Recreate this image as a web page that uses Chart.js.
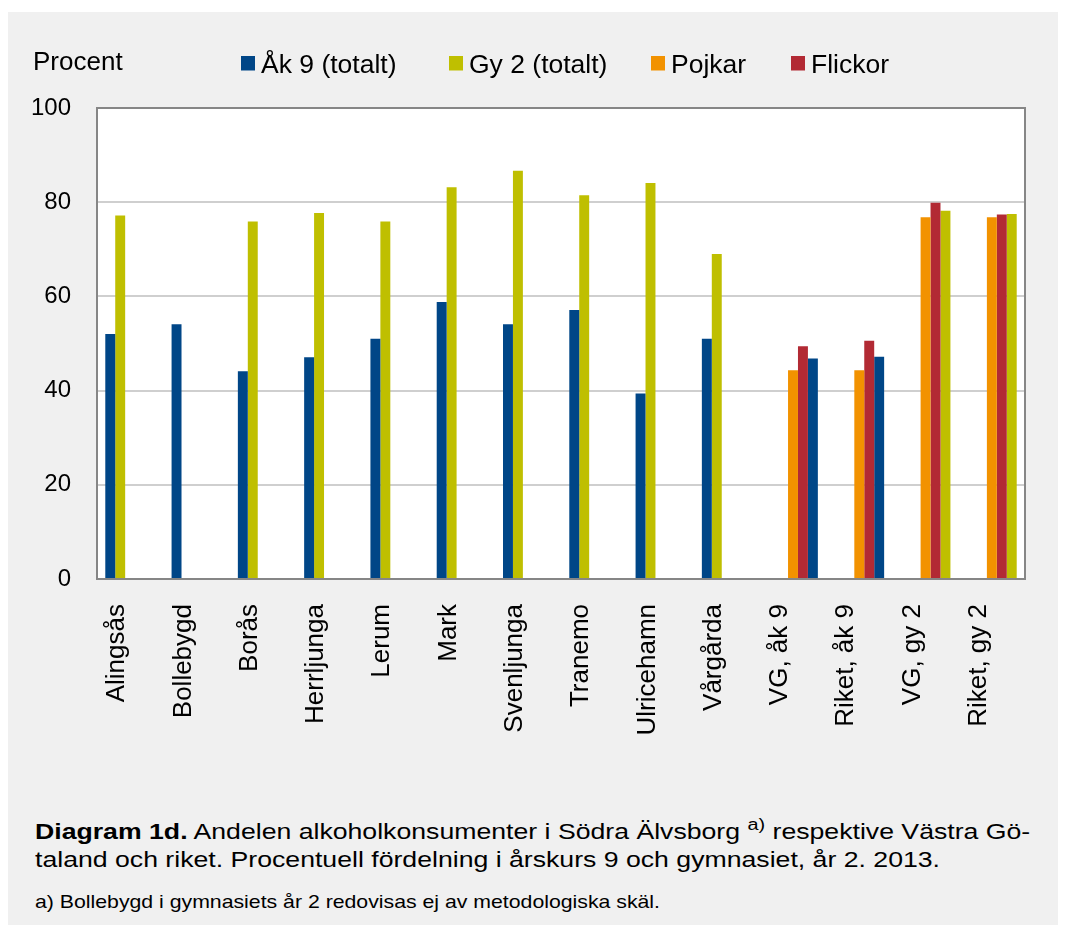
<!DOCTYPE html>
<html>
<head>
<meta charset="utf-8">
<script src="https://cdn.jsdelivr.net/npm/chart.js@4.4.1/dist/chart.umd.min.js"></script>
<style>
  html, body { margin: 0; padding: 0; background: #ffffff; }
  #panel { position: absolute; left: 8px; top: 12px; width: 1050px; height: 913px; background: #f0f0f0; overflow: hidden; }
  #c { position: absolute; left: 0; top: 0; }
  .cap { position: absolute; left: 27px; font-family: "Liberation Sans", Arial, sans-serif; color: #000; white-space: nowrap; line-height: 1; transform-origin: 0 0; }
  .sup { position: relative; top: -9px; font-size: 16px; }
</style>
</head>
<body>
<div id="panel">
  <canvas id="c" width="1050" height="770" style="width:1050px;height:770px"></canvas>
  <div class="cap" id="cap1" style="top:810px;font-size:21.5px;"><b>Diagram 1d.</b> Andelen alkoholkonsumenter i Södra Älvsborg <span class="sup">a)</span> respektive Västra Gö-</div>
  <div class="cap" id="cap2" style="top:838px;font-size:21.5px;">taland och riket. Procentuell fördelning i årskurs 9 och gymnasiet, år 2. 2013.</div>
  <div class="cap" id="cap3" style="top:881px;font-size:18.5px;">a) Bollebygd i gymnasiets år 2 redovisas ej av metodologiska skäl.</div>
</div>
<script>
// ---- Data ----
const categories = ['Alingsås', 'Bollebygd', 'Borås', 'Herrljunga', 'Lerum', 'Mark', 'Svenljunga', 'Tranemo', 'Ulricehamn', 'Vårgårda', 'VG, åk 9', 'Riket, åk 9', 'VG, gy 2', 'Riket, gy 2'];
const ak9Totalt = [52.0, 54.1, 44.1, 47.1, 51.0, 58.8, 54.1, 57.1, 39.4, 51.0, null, null, null, null];
const gy2Totalt = [77.2, null, 75.9, 77.7, 75.9, 83.2, 86.7, 81.5, 84.1, 69.0, null, null, null, null];
const pojkar    = [null, null, null, null, null, null, null, null, null, null, 44.3, 44.3, 76.8, 76.8];
const flickor   = [null, null, null, null, null, null, null, null, null, null, 49.4, 50.6, 79.9, 77.4];
const regionTotalt = [null, null, null, null, null, null, null, null, null, null, 46.8, 47.2, 78.2, 77.5];
const regionTotaltSeries = [null, null, null, null, null, null, null, null, null, null, 'ak9', 'ak9', 'gy2', 'gy2'];
const yTicks = [0, 20, 40, 60, 80, 100];
const yTitle = 'Procent';
const seriesNames = ['Åk 9 (totalt)', 'Gy 2 (totalt)', 'Pojkar', 'Flickor'];

// ---- Styles ----
const COLORS = { ak9: '#004687', gy2: '#bfbf00', pojkar: '#f29200', flickor: '#b22a34' };
const FONT = '"Liberation Sans", Arial, sans-serif';
const LEGEND_X = [233, 441, 643, 783];

Chart.defaults.font.family = FONT;
Chart.defaults.color = '#000';

const plotPlugin = {
  id: 'plotDecor',
  beforeDraw(chart) {
    const { ctx, chartArea: a } = chart;
    ctx.save();
    ctx.fillStyle = '#ffffff';
    ctx.fillRect(a.left, a.top, a.right - a.left, a.bottom - a.top);
    ctx.restore();
  },
  afterDatasetsDraw(chart) {
    const { ctx, chartArea: a } = chart;
    ctx.save();
    ctx.strokeStyle = '#868686';
    ctx.lineWidth = 2;
    ctx.strokeRect(a.left, a.top, a.right - a.left, a.bottom - a.top);
    ctx.restore();
  },
  afterDraw(chart) {
    const ctx = chart.ctx;
    ctx.save();
    ctx.fillStyle = '#000';
    ctx.textBaseline = 'alphabetic';
    ctx.font = '26px ' + FONT;
    ctx.fillText(yTitle, 25, 58);
    ctx.font = '26.5px ' + FONT;
    let i = 0;
    chart.data.datasets.forEach(ds => {
      if (ds.inLegend === false) return;
      const x = LEGEND_X[i++];
      ctx.fillStyle = ds.backgroundColor;
      ctx.fillRect(x, 44, 14, 14.5);
      ctx.fillStyle = '#000';
      ctx.fillText(ds.label, x + 20, 61);
    });
    ctx.restore();
  }
};

new Chart(document.getElementById('c'), {
  type: 'bar',
  data: {
    labels: categories,
    datasets: [
      { label: seriesNames[0], data: ak9Totalt, backgroundColor: COLORS.ak9 },
      { label: seriesNames[1], data: gy2Totalt, backgroundColor: COLORS.gy2 },
      { label: seriesNames[2], data: pojkar, backgroundColor: COLORS.pojkar },
      { label: seriesNames[3], data: flickor, backgroundColor: COLORS.flickor },
      { label: 'Totalt', data: regionTotalt, inLegend: false,
        backgroundColor: regionTotaltSeries.map(s => s ? COLORS[s] : 'rgba(0,0,0,0)') }
    ]
  },
  options: {
    responsive: false,
    animation: false,
    devicePixelRatio: 1,
    layout: { padding: { top: 96, right: 33, left: 0, bottom: 0 } },
    datasets: { bar: { categoryPercentage: 0.75, barPercentage: 1.0, borderWidth: 0 } },
    plugins: { legend: { display: false }, tooltip: { enabled: false } },
    scales: {
      x: {
        grid: { display: false, drawTicks: false },
        border: { display: false },
        ticks: { minRotation: 90, maxRotation: 90, autoSkip: false, padding: 25, labelOffset: -13, font: { size: 26 }, color: '#000' },
        afterFit(scale) { scale.height = 203; }
      },
      y: {
        min: 0, max: 100,
        afterBuildTicks(scale) { scale.ticks = yTicks.map(v => ({ value: v })); },
        grid: { color: '#cfcfcf', lineWidth: 2, drawTicks: false },
        border: { display: false },
        ticks: { padding: 26, font: { size: 24 }, color: '#000' },
        afterFit(scale) { scale.width = 89; }
      }
    }
  },
  plugins: [plotPlugin]
});

// caption width matching
function fitCaptions() {
  const c2 = document.getElementById('cap2');
  const s = 905 / c2.getBoundingClientRect().width;
  c2.style.transform = 'scaleX(' + s + ')';
  document.getElementById('cap1').style.transform = 'scaleX(' + s + ')';
  const c3 = document.getElementById('cap3');
  const s3 = 625 / c3.getBoundingClientRect().width;
  c3.style.transform = 'scaleX(' + s3 + ')';
}
fitCaptions();
</script>
</body>
</html>
